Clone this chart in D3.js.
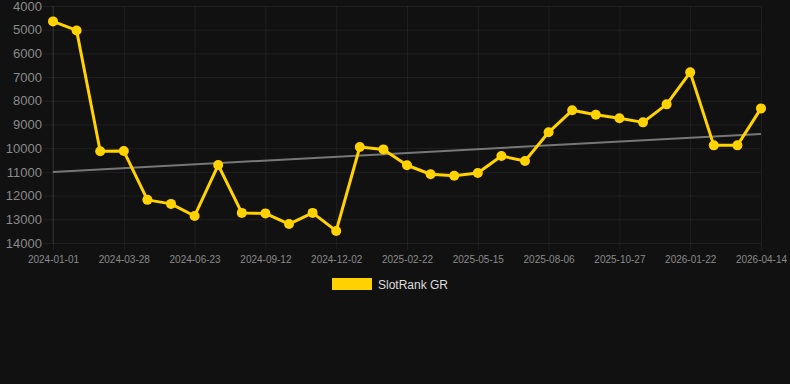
<!DOCTYPE html>
<html>
<head>
    <meta http-equiv="Content-Type" content="text/html; charset=utf-8" />
    <title>SlotRank GR</title>
    <style type="text/css">
        * {
            margin: 0;
            padding: 0
        }

        html,
        body {
            width: 100%;
            height: 100%;
            background: #111111;
        }

        #chart {
            display: block;
        }
    </style>
</head>
<body>
    <svg id="chart" width="790" height="384"></svg>
    <script src="https://cdn.jsdelivr.net/npm/d3@7"></script>
    <script>
        // 数据
        const dates = [
            "2024-01-01", "2024-01-30", "2024-02-28", "2024-03-28", "2024-04-26", "2024-05-25",
            "2024-06-23", "2024-07-20", "2024-08-16", "2024-09-12", "2024-10-09", "2024-11-05",
            "2024-12-02", "2024-12-29", "2025-01-25", "2025-02-22", "2025-03-21", "2025-04-18",
            "2025-05-15", "2025-06-12", "2025-07-09", "2025-08-06", "2025-09-02", "2025-09-30",
            "2025-10-27", "2025-11-24", "2025-12-23", "2026-01-22", "2026-02-18", "2026-03-17",
            "2026-04-14"
        ];
        const ranks = [
            4650, 5030, 10130, 10120, 12180, 12350,
            12860, 10710, 12730, 12750, 13200, 12730,
            13490, 9950, 10050, 10720, 11100, 11160,
            11050, 10330, 10540, 9330, 8400, 8590,
            8740, 8910, 8150, 6800, 9880, 9880,
            8320
        ];
        const trend = [11000, 9400];
        const yTicks = [4000, 5000, 6000, 7000, 8000, 9000, 10000, 11000, 12000, 13000, 14000];
        const seriesName = "SlotRank GR";

        const margin = { top: 6, right: 29, bottom: 141, left: 53 };
        const svg = d3.select("#chart");
        const width = 790 - margin.left - margin.right;
        const height = 384 - margin.top - margin.bottom;
        const g = svg.append("g").attr("transform", `translate(${margin.left},${margin.top})`);

        const x = d3.scalePoint().domain(dates).range([0, width]);
        const y = d3.scaleLinear().domain([4000, 14000]).range([0, height]);
        const gridColor = "rgba(255,255,255,0.06)";
        const textColor = "#8a8a8a";
        const gold = "#ffd200";

        // y 轴 + 网格
        const yAxis = g.append("g").call(d3.axisLeft(y).tickValues(yTicks).tickSize(10).tickPadding(1).tickFormat(d3.format("d")));
        yAxis.select(".domain").remove();
        yAxis.selectAll("line").attr("stroke", gridColor).attr("x2", width);
        yAxis.selectAll("line").attr("x1", -10);
        yAxis.selectAll("text").attr("fill", textColor).attr("font-size", 13)
            .attr("font-family", "'Liberation Sans', Arial, sans-serif");

        // x 轴 + 网格
        const xTicks = dates.filter((d, i) => i % 3 === 0);
        const xAxis = g.append("g").attr("transform", `translate(0,${height})`)
            .call(d3.axisBottom(x).tickValues(xTicks).tickSize(7).tickPadding(6));
        xAxis.select(".domain").remove();
        xAxis.selectAll("line").attr("stroke", gridColor).attr("y1", -height).attr("y2", 7);
        xAxis.selectAll("text").attr("fill", textColor).attr("font-size", 10)
            .attr("font-family", "'Liberation Sans', Arial, sans-serif");
        // 左侧轴线
        g.append("line").attr("x1", 0).attr("x2", 0).attr("y1", 0).attr("y2", height)
            .attr("stroke", "rgba(255,255,255,0.1)");

        // 趋势线
        g.append("line")
            .attr("x1", x(dates[0])).attr("y1", y(trend[0]))
            .attr("x2", x(dates[dates.length - 1])).attr("y2", y(trend[1]))
            .attr("stroke", "#777").attr("stroke-width", 2);

        // 折线
        const line = d3.line().x(d => x(d.date)).y(d => y(d.rank));
        const data = dates.map((d, i) => ({ date: d, rank: ranks[i] }));
        g.append("path").datum(data).attr("d", line)
            .attr("fill", "none").attr("stroke", gold).attr("stroke-width", 3)
            .attr("stroke-linejoin", "round");
        g.selectAll("circle").data(data).enter().append("circle")
            .attr("cx", d => x(d.date)).attr("cy", d => y(d.rank)).attr("r", 5)
            .attr("fill", gold);

        // 图例
        const legend = svg.append("g").attr("transform", "translate(332,278)");
        legend.append("rect").attr("width", 40).attr("height", 12).attr("fill", gold);
        legend.append("text").attr("x", 46).attr("y", 10.5).text(seriesName)
            .attr("fill", "#dddddd").attr("font-size", 12)
            .attr("font-family", "'Liberation Sans', Arial, sans-serif");
    </script>
</body>
</html>
